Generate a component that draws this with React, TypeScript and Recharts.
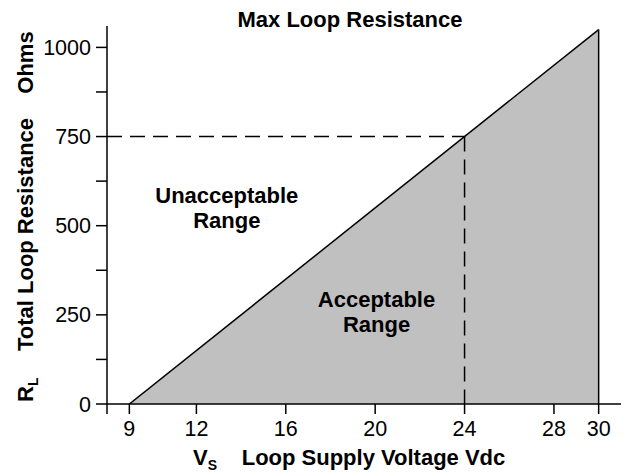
import React from 'react';
import {
  ComposedChart,
  Area,
  XAxis,
  YAxis,
  ReferenceLine,
  ReferenceDot,
  Customized,
} from 'recharts';

// ---- data ----
const supplyVoltage = [9, 30];
const maxLoopResistance = [0, 1050];
const xTicks = [8, 9, 12, 16, 20, 24, 28, 30];
const yTicks = [0, 125, 250, 375, 500, 625, 750, 875, 1000];
const xDomain = [8, 31];
const yDomain = [0, 1060];
const operatingVoltage = 24;
const operatingResistance = 750;
const regionNames = [
  { v: 13.36, r: 564, lines: ['Unacceptable', 'Range'] },
  { v: 20.06, r: 273, lines: ['Acceptable', 'Range'] },
];
const titleText = 'Max Loop Resistance';
const yLabelMain = 'Total Loop Resistance';
const yLabelUnit = 'Ohms';
const xLabelMain = 'Loop Supply Voltage Vdc';

const chartData = supplyVoltage.map((v, i) => ({ v, r: maxLoopResistance[i] }));

const FONT = '"Liberation Sans", Arial, Helvetica, sans-serif';

const RegionLabel = (props: any) => {
  const vb = props.viewBox || {};
  const x = vb.x + (vb.width || 0) / 2;
  const y = vb.y + (vb.height || 0) / 2;
  const lines: string[] = props.lines;
  return (
    <text
      x={x}
      y={y}
      textAnchor="middle"
      fontFamily={FONT}
      fontWeight="bold"
      fontSize={22}
      fill="#000"
    >
      {lines.map((l, i) => (
        <tspan key={i} x={x} dy={i === 0 ? 0 : 25}>
          {l}
        </tspan>
      ))}
    </text>
  );
};

const TextLayer = () => (
  <g fontFamily={FONT} fontWeight="bold" fontSize={22} fill="#000">
    <text x={350} y={27} textAnchor="middle">
      {titleText}
    </text>
    <text x={33} y={234.5} textAnchor="middle" transform="rotate(-90, 33, 234.5)">
      {yLabelMain}
    </text>
    <text x={33} y={62.5} textAnchor="middle" transform="rotate(-90, 33, 62.5)">
      {yLabelUnit}
    </text>
    <text x={33} y={402} textAnchor="start" transform="rotate(-90, 33, 402)">
      R
      <tspan fontSize={14} dy={5}>
        L
      </tspan>
    </text>
    <text x={193} y={465} textAnchor="start">
      V
      <tspan fontSize={14} dy={5}>
        S
      </tspan>
    </text>
    <text x={241.7} y={465} textAnchor="start">
      {xLabelMain}
    </text>
  </g>
);

export default function App() {
  return (
    <div style={{ position: 'absolute', left: 0, top: 0, width: 626, height: 472, background: '#fff' }}>
      <ComposedChart
        width={626}
        height={472}
        data={chartData}
        margin={{ top: 26, right: 5, bottom: 37, left: 47 }}
      >
        <XAxis
          type="number"
          dataKey="v"
          domain={xDomain}
          ticks={xTicks}
          interval={0}
          allowDataOverflow
          height={31}
          tickSize={10}
          tickMargin={7}
          axisLine={{ stroke: '#000', strokeWidth: 1.5 }}
          tickLine={{ stroke: '#000', strokeWidth: 1.5 }}
          tick={{ fill: '#000', fontSize: 21.5, fontFamily: FONT }}
          tickFormatter={(t: number) => (t === xDomain[0] ? '' : String(t))}
        />
        <YAxis
          type="number"
          domain={yDomain}
          ticks={yTicks}
          interval={0}
          allowDataOverflow
          width={60}
          tickSize={11}
          tickMargin={5}
          axisLine={{ stroke: '#000', strokeWidth: 1.5 }}
          tickLine={{ stroke: '#000', strokeWidth: 1.5 }}
          tick={{ fill: '#000', fontSize: 21.5, fontFamily: FONT }}
          tickFormatter={(t: number) => (t % 250 === 0 ? String(t) : '')}
        />
        <Area
          type="linear"
          dataKey="r"
          stroke="#000"
          strokeWidth={1.5}
          fill="#c0c0c0"
          fillOpacity={1}
          baseValue={0}
          isAnimationActive={false}
          dot={false}
          activeDot={false}
        />
        <ReferenceLine
          segment={[
            { x: supplyVoltage[1], y: 0 },
            { x: supplyVoltage[1], y: maxLoopResistance[1] },
          ]}
          stroke="#000"
          strokeWidth={1.5}
        />
        <ReferenceLine
          segment={[
            { x: xDomain[0], y: operatingResistance },
            { x: operatingVoltage, y: operatingResistance },
          ]}
          stroke="#000"
          strokeWidth={1.5}
          strokeDasharray="15 8"
        />
        <ReferenceLine
          segment={[
            { x: operatingVoltage, y: operatingResistance },
            { x: operatingVoltage, y: 0 },
          ]}
          stroke="#000"
          strokeWidth={1.5}
          strokeDasharray="15 8"
        />
        {regionNames.map((rn, i) => (
          <ReferenceDot
            key={i}
            x={rn.v}
            y={rn.r}
            r={0}
            fill="none"
            stroke="none"
            label={<RegionLabel lines={rn.lines} />}
          />
        ))}
        <Customized component={<TextLayer />} />
      </ComposedChart>
    </div>
  );
}
